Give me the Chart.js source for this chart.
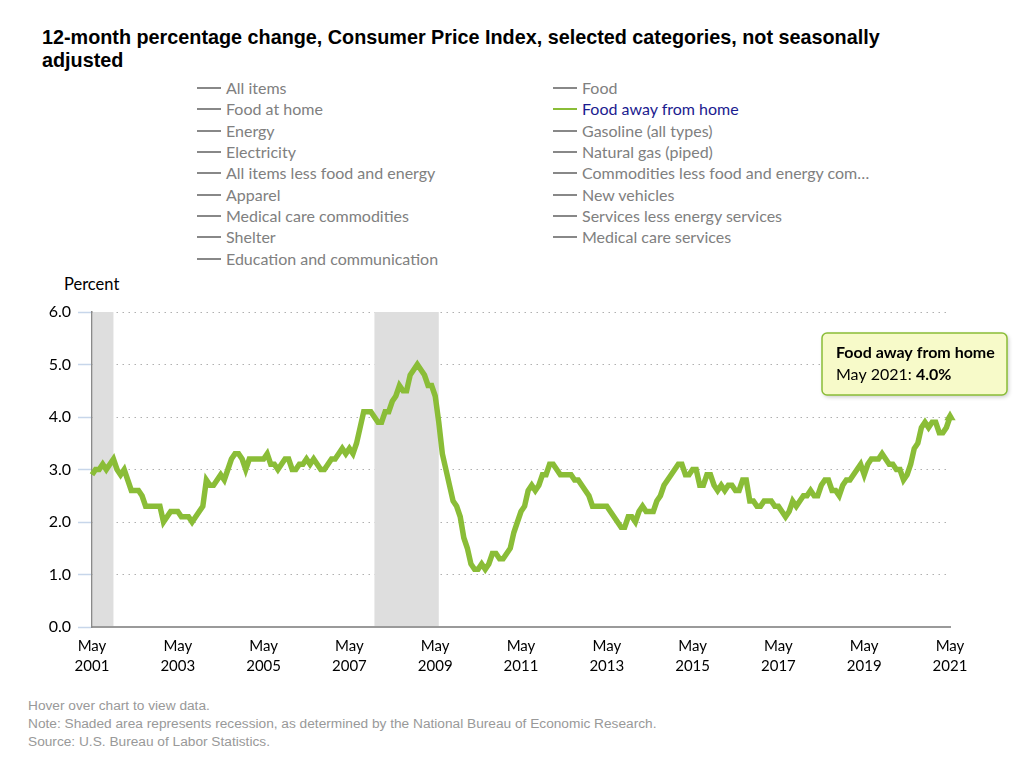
<!DOCTYPE html>
<html>
<head>
<meta charset="utf-8">
<script src="https://cdn.jsdelivr.net/npm/chart.js@4.4.1/dist/chart.umd.min.js"></script>
<style>
  html, body { margin: 0; padding: 0; background: #fff; }
  body { width: 1024px; height: 768px; position: relative; overflow: hidden; }
  #title { position: absolute; left: 42px; top: 26px; font: bold 19.8px "Liberation Sans", Arial, sans-serif; line-height: 23px; color: #000; white-space: nowrap; }
  .leg { position: absolute; height: 20px; line-height: 20px; font: 16px Lato, sans-serif; color: #808080; white-space: nowrap; }
  .leg .ico { position: absolute; left: 0; top: 9px; width: 24px; height: 2px; background: #888; }
  .leg .txt { position: absolute; left: 29px; top: 0; }
  .leg.sel { color: #1b1b8f; }
  .leg.sel .ico { background: #8abd37; }
  #ytitle { position: absolute; left: 64px; top: 274px; font: 16.5px Lato, sans-serif; color: #000; }
  #chartbox { position: absolute; left: 0; top: 270px; width: 1024px; height: 420px; }
  #foot { position: absolute; left: 28px; top: 697px; font: 13.7px "Liberation Sans", Arial, sans-serif; line-height: 18px; color: #999; white-space: nowrap; }
</style>
</head>
<body>
<div id="title">12-month percentage change, Consumer Price Index, selected categories, not seasonally<br>adjusted</div>
<div id="legend"></div>
<div id="ytitle">Percent</div>
<div id="chartbox"><canvas id="c" width="1024" height="420"></canvas></div>
<div id="foot">Hover over chart to view data.<br>Note: Shaded area represents recession, as determined by the National Bureau of Economic Research.<br>Source: U.S. Bureau of Labor Statistics.</div>
<script>
// ---- data ----
const seriesName = 'Food away from home';
const monthNames = ['Jan','Feb','Mar','Apr','May','Jun','Jul','Aug','Sep','Oct','Nov','Dec'];
const startYear = 2001;
const startMonth = 4; // May (0-based)
// 12-month percent change, May 2001 ... May 2021
const foodAwayFromHome = [
  2.9,3.0,3.0,3.1,3.0,3.1,3.2,3.0,2.9,3.0,2.8,2.6,
  2.6,2.6,2.5,2.3,2.3,2.3,2.3,2.3,2.0,2.1,2.2,2.2,
  2.2,2.1,2.1,2.1,2.0,2.1,2.2,2.3,2.8,2.7,2.7,2.8,
  2.9,2.8,3.0,3.2,3.3,3.3,3.2,3.0,3.2,3.2,3.2,3.2,
  3.2,3.3,3.1,3.1,3.0,3.1,3.2,3.2,3.0,3.0,3.1,3.1,
  3.2,3.1,3.2,3.1,3.0,3.0,3.1,3.2,3.2,3.3,3.4,3.3,
  3.4,3.3,3.5,3.8,4.1,4.1,4.1,4.0,3.9,3.9,4.1,4.1,
  4.3,4.4,4.6,4.5,4.5,4.8,4.9,5.0,4.9,4.8,4.6,4.6,
  4.4,3.9,3.3,3.0,2.7,2.4,2.3,2.1,1.7,1.5,1.2,1.1,
  1.1,1.2,1.1,1.2,1.4,1.4,1.3,1.3,1.4,1.5,1.8,2.0,
  2.2,2.3,2.6,2.7,2.6,2.7,2.9,2.9,3.1,3.1,3.0,2.9,
  2.9,2.9,2.9,2.8,2.8,2.7,2.6,2.5,2.3,2.3,2.3,2.3,
  2.3,2.2,2.1,2.0,1.9,1.9,2.1,2.1,2.0,2.2,2.3,2.2,
  2.2,2.2,2.4,2.5,2.7,2.8,2.9,3.0,3.1,3.1,2.9,2.9,
  3.0,3.0,2.7,2.7,2.9,2.9,2.7,2.6,2.7,2.6,2.7,2.7,
  2.6,2.6,2.8,2.8,2.4,2.4,2.3,2.3,2.4,2.4,2.4,2.3,
  2.3,2.2,2.1,2.2,2.4,2.3,2.4,2.5,2.5,2.6,2.5,2.5,
  2.7,2.8,2.8,2.6,2.6,2.5,2.7,2.8,2.8,2.9,3.0,3.1,
  2.9,3.1,3.2,3.2,3.2,3.3,3.2,3.1,3.1,3.0,3.0,2.8,
  2.9,3.1,3.4,3.5,3.8,3.9,3.8,3.9,3.9,3.7,3.7,3.8,
  4.0
];
// recessions (NBER): [startYear, startMonth(1-12), endYear, endMonth]
const recessions = [[2001,3,2001,11],[2007,12,2009,6]];
const yTicks = [0,1,2,3,4,5,6];
const xTickEvery = 24;
const legendLeft = ['All items','Food at home','Energy','Electricity','All items less food and energy','Apparel','Medical care commodities','Shelter','Education and communication'];
const legendRight = ['Food','Food away from home','Gasoline (all types)','Natural gas (piped)','Commodities less food and energy com\u2026','New vehicles','Services less energy services','Medical care services'];

// ---- legend (HTML) ----
const legEl = document.getElementById('legend');
function addLegend(list, left) {
  list.forEach((name, i) => {
    const d = document.createElement('div');
    d.className = 'leg' + (name === seriesName ? ' sel' : '');
    d.style.left = left + 'px';
    d.style.top = (78 + i * 21.35) + 'px';
    d.innerHTML = '<span class="ico"></span><span class="txt"></span>';
    d.querySelector('.txt').textContent = name;
    legEl.appendChild(d);
  });
}
addLegend(legendLeft, 197);
addLegend(legendRight, 553);

// ---- chart ----
const labels = foodAwayFromHome.map((_, i) => {
  const m = startMonth + i;
  return monthNames[m % 12] + ' ' + (startYear + Math.floor(m / 12));
});
const idxOf = (y, m) => (y - startYear) * 12 + (m - 1 - startMonth);
const GREEN = '#8abd37';
const lastIdx = foodAwayFromHome.length - 1;

const recessionPlugin = {
  id: 'recessions',
  beforeDatasetsDraw(chart) {
    const {ctx, chartArea, scales: {x}} = chart;
    ctx.save();
    ctx.fillStyle = '#dedede';
    recessions.forEach(([sy, sm, ey, em]) => {
      const s = Math.max(0, idxOf(sy, sm));
      const e = Math.min(lastIdx, idxOf(ey, em));
      let x1 = x.getPixelForValue(s), x2 = x.getPixelForValue(e);
      x1 = Math.max(x1, chartArea.left + 1);
      ctx.fillRect(x1, chartArea.top, x2 - x1, chartArea.bottom - chartArea.top - 1);
    });
    ctx.restore();
  }
};

const tipPlugin = {
  id: 'fixedTip',
  afterDraw(chart) {
    const {ctx} = chart;
    const pt = chart.getDatasetMeta(0).data[lastIdx];
    const bx = pt.x - 128, by = pt.y - 84, bw = 185, bh = 62;
    ctx.save();
    ctx.shadowColor = 'rgba(0,0,0,0.22)';
    ctx.shadowBlur = 4; ctx.shadowOffsetX = 1.5; ctx.shadowOffsetY = 2;
    ctx.beginPath();
    ctx.roundRect(bx, by, bw, bh, 5);
    ctx.fillStyle = '#f7fac9';
    ctx.fill();
    ctx.shadowColor = 'transparent';
    ctx.lineWidth = 1.5;
    ctx.strokeStyle = GREEN;
    ctx.stroke();
    ctx.fillStyle = '#000';
    ctx.textBaseline = 'middle';
    ctx.font = 'bold 16px Lato';
    ctx.fillText(seriesName, bx + 14, by + 20);
    const pre = labels[lastIdx] + ': ';
    ctx.font = '16px Lato';
    ctx.fillText(pre, bx + 14, by + 42);
    const w = ctx.measureText(pre).width;
    ctx.font = 'bold 16px Lato';
    ctx.fillText(foodAwayFromHome[lastIdx].toFixed(1) + '%', bx + 14 + w, by + 42);
    ctx.restore();
  }
};

Chart.defaults.font.family = 'Lato';
new Chart(document.getElementById('c'), {
  type: 'line',
  data: {
    labels: labels,
    datasets: [{
      label: seriesName,
      data: foodAwayFromHome,
      borderColor: GREEN,
      backgroundColor: GREEN,
      borderWidth: 5.5,
      tension: 0,
      pointStyle: 'triangle',
      pointRadius: ctx => ctx.dataIndex === lastIdx ? 6.5 : 0,
      pointHoverRadius: ctx => ctx.dataIndex === lastIdx ? 6.5 : 0,
      pointBorderWidth: 0,
      pointBackgroundColor: GREEN,
      clip: false
    }]
  },
  options: {
    responsive: false,
    animation: false,
    events: [],
    layout: { padding: { top: 42, right: 74, left: 0, bottom: 0 } },
    plugins: { legend: { display: false }, tooltip: { enabled: false } },
    scales: {
      x: {
        type: 'category',
        offset: false,
        afterFit(s) { s.height = 63; },
        afterBuildTicks(s) { s.ticks = s.ticks.filter(t => t.value % xTickEvery === 0); },
        grid: { display: false, drawTicks: false },
        border: { display: true, color: '#9a9a9a', width: 2 },
        ticks: {
          autoSkip: false, maxRotation: 0, minRotation: 0, padding: 9,
          color: '#000', font: { size: 15, family: 'Lato', lineHeight: 1.35 },
          callback(v) { return this.getLabelForValue(v).split(' '); }
        }
      },
      y: {
        min: 0, max: 6,
        afterFit(s) { s.width = 92; },
        afterBuildTicks(s) { s.ticks = yTicks.map(v => ({ value: v })); },
        grid: { color: '#b0b0b0', lineWidth: 1, drawTicks: true, tickLength: 14, tickColor: '#c7d6ea', tickWidth: 1.5 },
        border: { display: true, color: '#8a8a8a', width: 1.5, dash: [1.5, 4.5] },
        ticks: { color: '#000', padding: 7, font: { size: 16, family: 'Lato' }, callback: v => v.toFixed(1) }
      }
    }
  },
  plugins: [recessionPlugin, tipPlugin]
});
</script>
</body>
</html>
